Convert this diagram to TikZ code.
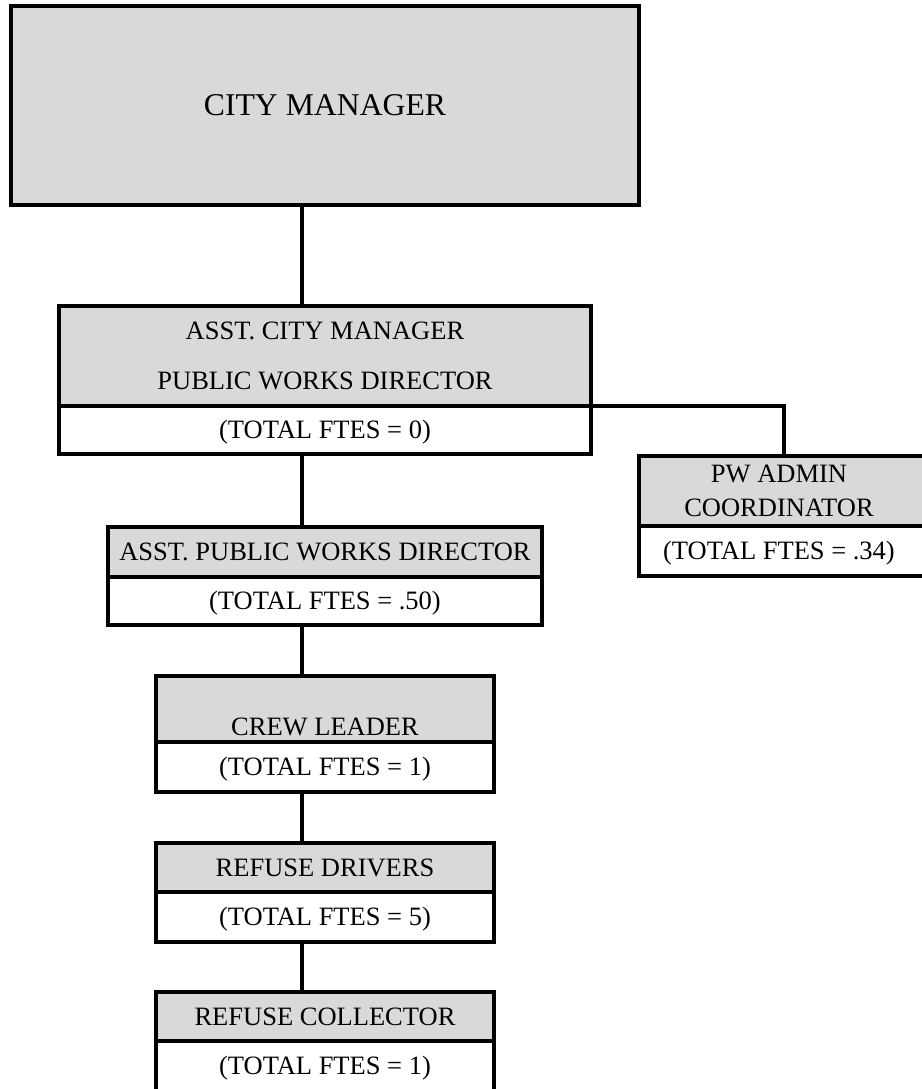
\documentclass[tikz,border=0pt]{standalone}
\usepackage{fontspec}
\setmainfont{Liberation Serif}
\definecolor{boxgrey}{HTML}{D9D9D9}
\begin{document}
\begin{tikzpicture}[x=0.5pt,y=-0.5pt,
  cell/.style={draw=black, line width=1.6pt, rectangle, inner sep=0pt, outer sep=0pt, anchor=north west},
  title/.style={cell, fill=boxgrey},
  ftes/.style={cell, fill=white},
  lbl/.style={font=\fontsize{13.25}{16}\selectfont, inner sep=0pt, text height=8.7pt, text depth=0pt},
  biglbl/.style={font=\fontsize{15.85}{19}\selectfont, inner sep=0pt, text height=10.4pt, text depth=0pt},
  link/.style={draw=black, line width=1.6pt}]

\useasboundingbox (0,0) rectangle (922,1089);
\clip (0,0) rectangle (922,1089);
\fill[white] (0,0) rectangle (922,1089);

% boxes: grey title cell above a white FTE cell
\node[title, minimum width=314pt, minimum height=99.5pt] (cm) at (11,6) {};

\node[title, minimum width=266pt, minimum height=50pt] (acmT) at (59,306) {};
\node[ftes,  minimum width=266pt, minimum height=24pt] (acmF) at (59,406) {};

\node[title, minimum width=143pt, minimum height=35pt] (pwT) at (639,456) {};
\node[ftes,  minimum width=143pt, minimum height=25pt] (pwF) at (639,526) {};

\node[title, minimum width=217pt, minimum height=25pt] (apwT) at (108,527) {};
\node[ftes,  minimum width=217pt, minimum height=24pt] (apwF) at (108,577) {};

\node[title, minimum width=169pt, minimum height=33pt] (crewT) at (156,676) {};
\node[ftes,  minimum width=169pt, minimum height=25pt] (crewF) at (156,742) {};

\node[title, minimum width=169pt, minimum height=24.5pt] (drvT) at (156,843) {};
\node[ftes,  minimum width=169pt, minimum height=25pt] (drvF) at (156,892) {};

\node[title, minimum width=169pt, minimum height=24.5pt] (colT) at (156,992) {};
\node[ftes,  minimum width=169pt, minimum height=29.5pt] (colF) at (156,1041) {};

% texts
\node[biglbl] (cmL) at (cm.center) {CITY MANAGER};

\node[lbl, yshift=12.5pt]  (acmL1) at (acmT.center) {ASST. CITY MANAGER};
\node[lbl, yshift=-12.5pt] (acmL2) at (acmT.center) {PUBLIC WORKS DIRECTOR};
\node[lbl] (acmN) at (acmF.center) {(TOTAL FTES = 0)};

\node[lbl, xshift=-1.5pt, yshift=8.5pt]  (pwL1) at (pwT.center) {PW ADMIN};
\node[lbl, xshift=-1.5pt, yshift=-8.5pt] (pwL2) at (pwT.center) {COORDINATOR};
\node[lbl, xshift=-1.5pt] (pwN) at (pwF.center) {(TOTAL FTES = .34)};

\node[lbl] (apwL) at (apwT.center) {ASST. PUBLIC WORKS DIRECTOR};
\node[lbl] (apwN) at (apwF.center) {(TOTAL FTES = .50)};

\node[lbl, yshift=-8.75pt] (crewL) at (crewT.center) {CREW LEADER};
\node[lbl] (crewN) at (crewF.center) {(TOTAL FTES = 1)};

\node[lbl] (drvL) at (drvT.center) {REFUSE DRIVERS};
\node[lbl] (drvN) at (drvF.center) {(TOTAL FTES = 5)};

\node[lbl] (colL) at (colT.center) {REFUSE COLLECTOR};
\node[lbl, yshift=2.25pt] (colN) at (colF.center) {(TOTAL FTES = 1)};

% reporting lines
\coordinate (spine) at (302,0);
\coordinate (pwdrop) at (784,0);
\draw[link] (cm.south -| spine) -- (acmT.north -| spine);
\draw[link] (acmF.south -| spine) -- (apwT.north -| spine);
\draw[link] (apwF.south -| spine) -- (crewT.north -| spine);
\draw[link] (crewF.south -| spine) -- (drvT.north -| spine);
\draw[link] (drvF.south -| spine) -- (colT.north -| spine);
\draw[link] (acmF.north east) -| (pwT.north -| pwdrop);
\end{tikzpicture}
\end{document}
